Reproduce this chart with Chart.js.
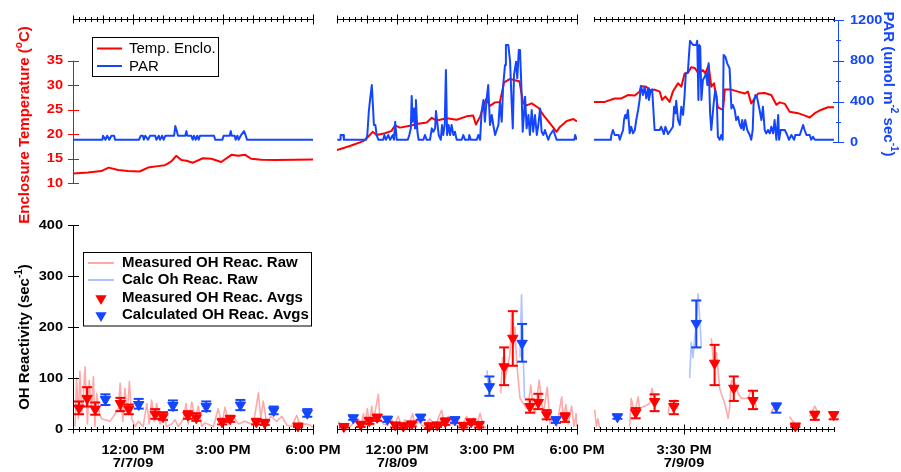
<!DOCTYPE html>
<html>
<head>
<meta charset="utf-8">
<title>OH reactivity, enclosure temperature and PAR</title>
<script src="https://cdn.jsdelivr.net/npm/chart.js@4.4.1/dist/chart.umd.min.js"></script>
<style>
  body { margin: 0; background: #fff; }
  #wrap { position: relative; width: 901px; height: 472px; background: #fff; }
  #wrap canvas { position: absolute; left: 0; top: 0; }
</style>
</head>
<body>
<div id="wrap">
  <canvas id="top1" width="901" height="472"></canvas>
  <canvas id="top2" width="901" height="472"></canvas>
  <canvas id="top3" width="901" height="472"></canvas>
  <canvas id="bot1" width="901" height="472"></canvas>
  <canvas id="bot2" width="901" height="472"></canvas>
  <canvas id="bot3" width="901" height="472"></canvas>
</div>
<script>
// ---- data (time in hours of the day) ----

// tick labels
const tickTimes1 = [12, 15, 18];
const tickText1 = ['12:00 PM', '3:00 PM', '6:00 PM'];
const dateText1 = ['7/7/09', '', ''];
const tickTimes2 = [12, 15, 18];
const tickText2 = ['12:00 PM', '3:00 PM', '6:00 PM'];
const dateText2 = ['7/8/09', '', ''];
const tickTimes3 = [15.5];
const tickText3 = ['3:30 PM'];
const dateText3 = ['7/9/09'];
const tempTicks = [10, 15, 20, 25, 30, 35];
const parTicks = [0, 400, 800, 1200];
const parMinor = [200, 600, 1000];
const ohTicks = [0, 100, 200, 300, 400];

// enclosure temperature (deg C)
const tempTime1 = [10.0, 10.5, 10.94, 11.19, 11.5, 11.83, 12.22, 12.5, 12.83, 13.06,
  13.16, 13.3, 13.44, 13.61, 13.78, 14.0, 14.33, 14.61, 14.94, 15.28,
  15.5, 15.74, 15.94, 16.28, 16.72, 17.39, 18.0];
const temp1 = [12.0, 12.2, 12.5, 13.2, 12.7, 12.5, 12.4, 13.2, 13.5, 13.7,
  14.0, 14.6, 15.6, 14.75, 14.6, 14.2, 15.1, 15.0, 14.35, 15.8,
  15.6, 15.8, 15.0, 14.8, 14.75, 14.8, 14.85];

const tempTime2 = [10.0, 10.43, 10.88, 11.04, 11.19, 11.32, 11.6, 11.82, 11.93, 12.1,
  12.43, 12.71, 12.99, 13.16, 13.32, 13.66, 13.99, 14.32, 14.54, 14.63,
  14.77, 14.97, 15.1, 15.27, 15.43, 15.57, 15.77, 15.99, 16.08, 16.21,
  16.32, 16.49, 16.71, 16.88, 17.1, 17.32, 17.43, 17.66, 17.88, 18.0];
const temp2 = [16.8, 17.6, 18.6, 19.5, 20.5, 19.85, 20.2, 20.7, 21.8, 21.35,
  21.75, 22.15, 22.4, 23.35, 22.8, 23.25, 22.95, 23.65, 23.8, 22.0,
  23.6, 27.2, 25.8, 26.5, 26.6, 30.6, 31.3, 30.9, 30.8, 26.3,
  25.9, 26.3, 25.4, 23.9, 22.2, 20.5, 21.5, 22.7, 23.1, 22.6];

const tempTime3 = [12.5, 12.86, 13.19, 13.41, 13.63, 13.86, 14.02, 14.08, 14.24, 14.36,
  14.52, 14.69, 14.77, 14.88, 15.02, 15.13, 15.3, 15.41, 15.52, 15.63,
  15.74, 15.86, 15.97, 16.13, 16.21, 16.32, 16.41, 16.5, 16.63, 16.8,
  16.86, 17.08, 17.3, 17.52, 17.63, 17.74, 17.97, 18.19, 18.41, 18.58,
  18.69, 18.86, 19.02, 19.3, 19.58, 19.69, 19.86, 20.08, 20.3, 20.5];
const temp3 = [26.6, 26.6, 27.3, 27.3, 28.0, 27.9, 28.7, 29.8, 29.7, 29.0,
  29.1, 28.7, 27.0, 27.7, 26.6, 28.7, 30.4, 29.7, 32.4, 32.5,
  33.65, 33.5, 32.5, 33.1, 32.4, 34.1, 29.7, 30.4, 25.5, 24.95,
  29.1, 29.1, 28.7, 28.3, 28.7, 26.3, 28.3, 28.4, 28.0, 26.0,
  26.5, 26.2, 24.6, 24.3, 23.7, 23.4, 24.3, 25.0, 25.5, 25.5];

// PAR (umol m-2 s-1)
const parTime1 = [10.0, 10.98, 11.0, 11.08, 11.14, 11.21, 11.28, 11.37, 11.4, 12.2,
  12.26, 12.33, 12.36, 12.41, 12.5, 12.57, 12.74, 12.78, 12.86, 12.9,
  12.97, 13.02, 13.08, 13.37, 13.41, 13.46, 13.5, 13.74, 13.78, 13.81,
  13.94, 13.99, 14.03, 14.09, 14.14, 14.19, 14.23, 14.7, 14.74, 14.98,
  15.02, 15.22, 15.26, 15.29, 15.39, 15.42, 15.48, 15.52, 15.59, 15.7,
  15.76, 15.8, 18.0];
const par1 = [25, 25, 65, 25, 65, 25, 65, 65, 25, 25,
  65, 65, 25, 65, 25, 65, 65, 25, 65, 25,
  65, 25, 65, 65, 160, 110, 65, 65, 110, 65,
  65, 25, 65, 25, 65, 25, 65, 65, 25, 25,
  65, 65, 110, 65, 65, 25, 65, 25, 65, 110,
  65, 25, 25];

const parTime2 = [10.01, 10.1, 10.12, 10.21, 10.23, 10.97, 11.01, 11.06, 11.1, 11.16,
  11.19, 11.23, 11.28, 11.32, 11.38, 11.54, 11.58, 11.63, 11.71, 11.77,
  11.86, 11.9, 11.94, 11.99, 12.36, 12.41, 12.46, 12.49, 12.52, 12.57,
  12.6, 12.63, 12.68, 12.72, 12.88, 12.93, 12.99, 13.1, 13.16, 13.21,
  13.27, 13.3, 13.34, 13.39, 13.46, 13.5, 13.54, 13.59, 13.63, 13.67,
  13.72, 13.77, 13.82, 13.88, 13.93, 13.99, 14.16, 14.21, 14.27, 14.39,
  14.41, 14.46, 14.66, 14.71, 14.77, 14.82, 14.88, 14.93, 14.99, 15.04,
  15.1, 15.16, 15.21, 15.27, 15.38, 15.43, 15.49, 15.54, 15.6, 15.63,
  15.71, 15.77, 15.82, 15.86, 15.9, 15.97, 16.01, 16.06, 16.1, 16.14,
  16.19, 16.23, 16.27, 16.32, 16.38, 16.43, 16.49, 16.54, 16.6, 16.66,
  16.71, 16.77, 16.82, 16.88, 16.93, 17.04, 17.1, 17.21, 17.32, 17.91,
  17.94, 17.99];
const par2 = [25, 25, 72, 72, 25, 25, 72, 300, 415, 562,
  400, 170, 170, 72, 25, 25, 72, 25, 72, 25,
  72, 25, 202, 25, 25, 72, 137, 454, 202, 333,
  137, 415, 104, 25, 25, 72, 25, 25, 137, 104,
  137, 307, 202, 72, 25, 170, 72, 170, 709, 72,
  170, 72, 170, 72, 104, 25, 25, 72, 25, 25,
  72, 25, 25, 72, 25, 300, 415, 202, 432, 562,
  170, 268, 170, 72, 170, 398, 202, 562, 758, 955,
  955, 791, 398, 137, 660, 791, 628, 905, 905, 595,
  104, 268, 448, 137, 268, 72, 317, 104, 268, 72,
  170, 333, 104, 72, 121, 25, 72, 121, 25, 25,
  72, 25];

const parTime3 = [12.5, 13.06, 13.08, 13.13, 13.19, 13.32, 13.36, 13.41, 13.47, 13.5,
  13.54, 13.58, 13.63, 13.69, 13.74, 13.8, 13.86, 13.91, 13.97, 14.02,
  14.06, 14.1, 14.13, 14.19, 14.24, 14.3, 14.33, 14.39, 14.44, 14.48,
  14.52, 14.63, 14.69, 14.74, 14.83, 14.88, 14.97, 15.06, 15.13, 15.17,
  15.21, 15.24, 15.3, 15.36, 15.41, 15.47, 15.52, 15.56, 15.63, 15.67,
  15.7, 15.8, 15.91, 15.94, 15.98, 16.01, 16.04, 16.08, 16.13, 16.19,
  16.24, 16.28, 16.32, 16.37, 16.41, 16.47, 16.5, 16.54, 16.59, 16.63,
  16.69, 16.74, 16.79, 16.82, 16.88, 16.94, 17.02, 17.08, 17.13, 17.19,
  17.24, 17.3, 17.36, 17.41, 17.44, 17.49, 17.54, 17.61, 17.69, 17.74,
  17.79, 17.82, 17.88, 17.93, 18.02, 18.08, 18.13, 18.19, 18.24, 18.3,
  18.36, 18.41, 18.47, 18.52, 18.58, 18.64, 18.67, 18.72, 18.86, 18.94,
  19.0, 19.08, 19.17, 19.21, 19.36, 19.47, 19.52, 19.58, 19.69, 19.74,
  19.8, 19.86, 20.5];
const par3 = [25, 25, 72, 121, 72, 72, 25, 72, 121, 219,
  268, 235, 317, 88, 153, 88, 121, 219, 317, 415,
  552, 513, 464, 546, 432, 530, 415, 513, 520, 317,
  121, 121, 121, 153, 81, 153, 81, 121, 153, 349,
  284, 408, 219, 170, 349, 268, 464, 677, 693, 873,
  997, 955, 955, 997, 415, 955, 938, 415, 611, 644,
  677, 562, 775, 284, 121, 317, 415, 513, 448, 55,
  25, 72, 25, 856, 840, 775, 726, 333, 366, 317,
  219, 251, 170, 137, 219, 121, 219, 121, 72, 25,
  121, 382, 464, 448, 317, 219, 349, 121, 88, 121,
  88, 153, 88, 219, 25, 268, 25, 121, 121, 72,
  25, 72, 25, 72, 72, 170, 121, 72, 72, 25,
  55, 25, 25];

// measured OH reactivity, raw (s-1); null = gap in record
const ohRawTime1 = [10.07, 10.12, 10.18, 10.23, 10.29, 10.34, 10.4, 10.48, 10.54, 10.62,
  10.68, 10.73, 10.79, 10.88, 10.96, 11.23, 11.34, 11.51, 11.57, 11.66,
  11.73, 11.81, 11.88, 11.96, 12.07, 12.18, 12.34, 12.46, 12.54, 12.62,
  12.7, 12.79, 12.9, 13.01, 13.12, 13.29, 13.4, 13.51, 13.68, 13.77,
  13.84, 13.96, 14.07, 14.18, 14.29, 14.4, 14.68, 14.84, 14.96, 15.07,
  15.18, 15.34, 15.51, 15.73, 16.01, 16.18, 16.26, 16.34, 16.46, 16.59,
  16.79, 16.96, 17.12, 17.29, 17.46, 17.57, 17.73, 17.9, 18.0];
const ohRaw1 = [5, 100, 20, 113, 30, 60, 122, 10, 95, 40,
  103, 5, 70, 30, 20, 15, 24, 40, 90, 15,
  80, 30, 93, 20, 5, 15, 5, 50, 10, 57,
  15, 50, 10, 30, 5, 10, 18, 5, 20, 50,
  10, 53, 20, 45, 5, 12, 5, 40, 10, 43,
  10, 25, 10, 15, 8, 71, 20, 55, 10, 25,
  15, 25, 8, 5, 27, 5, 10, 8, 3];

const ohRawTime2 = [10.04, 10.16, 10.27, 10.38, 10.71, 10.79, 10.88, 10.93, 11.01, 11.08,
  11.16, 11.21, 11.32, 11.38, 11.43, 11.54, 11.66, 11.82, 11.9, 12.04,
  12.16, 12.27, 12.38, 12.52, 12.6, 12.71, 12.88, 13.1, 13.27, 13.38,
  13.49, 13.57, 13.71, 13.82, 14.16, 14.32, 14.43, 14.54, 14.66, 14.77,
  14.88, 14.97, 15.2, 15.46, 15.52, 15.6, 15.68, 15.77, 15.82, 15.88,
  15.93, 15.99, 16.1, 16.32, 16.4, 16.46, 16.54, 16.6, 16.74, 16.82,
  16.88, 17.01, 17.1, 17.21, 17.32, 17.49, 17.54, 17.63, 17.71, 17.82,
  17.9, 17.97, 18.0];
const ohRaw2 = [15, 3, 10, 2, 20, 5, 30, 8, 40, 10,
  45, 15, 50, 68, 20, 10, 8, 20, 5, 25,
  5, 18, 5, 30, 8, 15, 5, 20, 5, 22,
  37, 10, 25, 10, 5, 25, 8, 22, 8, 31,
  5, 3, null, 70, 140, 100, 120, 150, 227, 160,
  200, 130, 60, 40, 60, 86, 40, 30, 96, 50,
  30, 82, 10, 20, 5, 63, 20, 48, 10, 45,
  5, 30, 5];

const ohRawTime3 = [12.52, 12.58, 12.63, 12.69, 13.0, 13.69, 13.74, 13.86, 13.97, 14.02,
  14.36, 14.43, 14.52, 14.66, 14.8, 14.97, 15.02, 15.21, 15.3, 15.9,
  16.41, 16.5, 16.58, 16.69, 16.74, 16.86, 16.97, 17.02, 17.08, 17.19,
  17.3, 17.41, 17.63, 17.74, 17.86, 17.91, 18.2, 18.39, 18.47, 18.58,
  18.8, 19.02, 19.13, 19.24, 19.3, 19.5, 19.69, 19.86, 19.97, 20.2,
  20.36, 20.47, 20.5];
const ohRaw3 = [38, 5, 20, 2, null, 5, 60, 30, 63, 40,
  50, 80, 55, 60, null, 30, 50, 57, 40, null,
  178, 120, 150, 80, 70, 50, 21, 40, 96, 90,
  70, 60, 60, 76, 55, 40, null, 30, 40, 35,
  null, 24, 15, 8, 5, null, 25, 45, 30, null,
  20, 30, 25];

// calculated OH reactivity, raw (s-1)
const calcRawTime1 = [11.0, 11.04, 11.08, 11.12, 11.15, 11.6, 12.12, 12.16, 12.2, 12.25,
  12.7, 13.27, 13.31, 13.35, 13.4, 13.9, 14.38, 14.42, 14.46, 14.5,
  15.0, 15.52, 15.56, 15.6, 15.64, 16.2, 16.63, 16.67, 16.71, 16.75,
  17.3, 17.75, 17.79, 17.83, 17.87];
const calcRaw1 = [50, 62, 46, 60, 52, null, 45, 58, 42, 52,
  null, 40, 52, 35, 48, null, 38, 50, 33, 45,
  null, 38, 52, 35, 49, null, 30, 42, 28, 38,
  null, 26, 36, 24, 33];

const calcRawTime2 = [10.5, 10.54, 10.58, 10.62, 11.1, 11.64, 11.68, 11.72, 11.76, 12.3,
  12.75, 12.79, 12.83, 12.87, 13.4, 13.9, 13.94, 13.98, 14.02, 14.5,
  15.0, 15.04, 15.08, 15.12, 15.16, 15.6, 16.1, 16.15, 16.2, 16.25,
  16.8, 17.26, 17.3, 17.34, 17.38];
const calcRaw2 = [20, 26, 18, 24, null, 16, 23, 15, 21, null,
  20, 27, 18, 25, null, 15, 22, 13, 20, null,
  115, 90, 70, 95, 80, null, 140, 263, 160, 60,
  null, 15, 22, 13, 20];

const calcRawTime3 = [13.24, 13.28, 13.32, 13.36, 14.0, 15.69, 15.74, 15.8, 15.86, 15.91,
  15.97, 16.02, 16.08, 17.0, 18.52, 18.56, 18.6, 18.64];
const calcRaw3 = [20, 27, 18, 24, null, 100, 170, 140, 180, 210,
  265, 220, 160, null, 40, 50, 38, 47];

// measured OH reactivity averages with error bars
const measTime1 = [10.2, 10.47, 10.74, 11.58, 11.86, 12.74, 13.0, 13.83, 14.11, 14.97, 15.24, 16.11, 16.39, 17.5];
const measAvg1 = [41, 60, 39, 50, 39, 29, 24, 27, 22, 14, 20, 14, 12, 6];
const measLo1 = [29, 44, 28, 35, 29, 20, 18, 20, 16, 9, 14, 9, 8, 4];
const measHi1 = [54, 82, 52, 61, 48, 39, 33, 35, 31, 20, 26, 20, 18, 8];

const measTime2 = [10.23, 10.79, 11.08, 11.34, 11.94, 12.21, 12.49, 13.07, 13.34, 13.61,
  14.21, 14.47, 14.74, 15.57, 15.86, 16.43, 16.71, 16.99, 17.6];
const measAvg2 = [5, 9, 16, 23, 8, 6, 10, 6, 8, 14, 7, 14, 9, 122, 178, 44, 52, 28, 24];
const measLo2 = [3, 4, 10, 16, 3, 2, 5, 2, 4, 8, 3, 9, 3, 86, 124, 32, 39, 19, 14];
const measHi2 = [7, 14, 22, 28, 12, 11, 14, 11, 12, 21, 12, 18, 12, 160, 231, 58, 69, 37, 31];

const measTime3 = [13.89, 14.52, 15.16, 16.52, 17.16, 17.8, 19.21, 19.86, 20.49];
const measAvg3 = [32, 54, 44, 129, 80, 56, 6, 28, 28];
const measLo3 = [21, 35, 29, 86, 55, 39, 4, 18, 19];
const measHi3 = [41, 68, 55, 165, 103, 75, 8, 34, 33];

// calculated OH reactivity averages with error bars
const calcTime1 = [11.08, 12.19, 13.33, 14.44, 15.58, 16.69, 17.81];
const calcAvg1 = [58, 48, 46, 44, 47, 36, 31];
const calcLo1 = [47, 40, 37, 35, 37, 29, 24];
const calcHi1 = [68, 59, 56, 54, 57, 44, 39];

const calcTime2 = [10.54, 11.68, 12.79, 13.93, 15.08, 16.17, 17.3];
const calcAvg2 = [22, 19, 23, 18, 83, 168, 18];
const calcLo2 = [18, 14, 18, 12, 65, 132, 12];
const calcHi2 = [26, 24, 28, 23, 103, 206, 23];

const calcTime3 = [13.28, 15.91, 18.58];
const calcAvg3 = [24, 207, 45];
const calcLo3 = [20, 160, 32];
const calcHi3 = [28, 252, 50];

// ---- layout / style ----
const W = 901, H = 472;
const RED = '#ff0000', BLUE = '#1446ff', PINK = '#ffaaaa', LBLUE = '#afc3ff';
const FONT = '"Liberation Sans", Arial, Helvetica, sans-serif';
const TICK_FONT = 'bold 13px ' + FONT;

const panels = [
  { min: 10, max: 18, left: 73, right: 313, hourly: true },
  { min: 10, max: 18, left: 337, right: 577, hourly: true },
  { min: 12.5, max: 20.5, left: 594, right: 834, hourly: false }
];
const TOP_AREA = { top: 19, bottom: 183.3 };
const BOT_AREA = { top: 225, bottom: 429 };

// ---- helpers ----
function pts(ts, vs) {
  return ts.map((t, i) => ({ x: t, y: vs[i] }));
}

function lineSet(ts, vs, color, width, axis, order) {
  return {
    data: pts(ts, vs),
    showLine: true,
    borderColor: color,
    borderWidth: width,
    borderJoinStyle: 'round',
    pointRadius: 0,
    spanGaps: false,
    yAxisID: axis,
    order: order
  };
}

// vertical error bar with caps, one segment per average
function barSet(ts, lo, hi, color) {
  return {
    data: ts.flatMap((t, i) => [{ x: t, y: lo[i] }, { x: t, y: hi[i] }, { x: t, y: null }]),
    showLine: true,
    spanGaps: false,
    borderColor: color,
    borderWidth: 2,
    pointStyle: 'line',
    pointRadius: 5,
    pointBorderColor: color,
    pointBorderWidth: 2,
    clip: false,
    order: 1
  };
}

function markerSet(ts, vs, color) {
  return {
    data: pts(ts, vs),
    pointStyle: 'triangle',
    pointRotation: 180,
    pointRadius: 6,
    pointBackgroundColor: color,
    pointBorderColor: color,
    pointBorderWidth: 1,
    clip: false,
    order: 0
  };
}

function text(ctx, s, x, y, font, color, align, sx) {
  ctx.save();
  ctx.translate(x, y);
  ctx.scale(sx || 1, 1);
  ctx.font = font;
  ctx.fillStyle = color;
  ctx.textAlign = align || 'left';
  ctx.textBaseline = 'middle';
  ctx.fillText(s, 0, 0);
  ctx.restore();
}

// rotated axis title with superscripts
function richLabel(ctx, parts, cx, cy, angle, color) {
  const big = 'bold 15px ' + FONT, small = 'bold 10px ' + FONT;
  ctx.save();
  ctx.translate(cx, cy);
  ctx.rotate(angle);
  ctx.fillStyle = color;
  ctx.textBaseline = 'middle';
  ctx.textAlign = 'left';
  let w = 0;
  parts.forEach(p => { ctx.font = p.sup ? small : big; w += ctx.measureText(p.s).width; });
  let x = -w / 2;
  parts.forEach(p => {
    ctx.font = p.sup ? small : big;
    ctx.fillText(p.s, x, p.sup ? -6 : 0);
    x += ctx.measureText(p.s).width;
  });
  ctx.restore();
}

function drawTimeAxis(chart, p, y, times, texts, dates) {
  const ctx = chart.ctx, sc = chart.scales.x;
  ctx.save();
  ctx.strokeStyle = '#000';
  ctx.lineWidth = 1;
  ctx.beginPath();
  ctx.moveTo(sc.left, y + 0.5);
  ctx.lineTo(sc.right, y + 0.5);
  const n = Math.round((p.max - p.min) / 0.2);
  for (let k = 0; k <= n; k++) {
    const t = p.min + k * 0.2;
    const px = Math.round(sc.getPixelForValue(t)) + 0.5;
    let len = 2.5;
    if (p.hourly && Math.abs(t - Math.round(t)) < 1e-6) len = 4;
    if (times.some(m => Math.abs(m - t) < 1e-6)) len = 5;
    ctx.moveTo(px, y + 0.5 - len);
    ctx.lineTo(px, y + 0.5 + len);
  }
  ctx.stroke();
  if (texts) {
    times.forEach((t, i) => {
      const px = sc.getPixelForValue(t);
      text(ctx, texts[i], px, 450, TICK_FONT, '#000', 'center', 1.12);
      if (dates[i]) text(ctx, dates[i], px, 463.5, TICK_FONT, '#000', 'center', 1.12);
    });
  }
  ctx.restore();
}

function drawYAxis(chart, id, x, ticks, minor, color, side) {
  const ctx = chart.ctx, sc = chart.scales[id];
  ctx.save();
  ctx.strokeStyle = color;
  ctx.lineWidth = 1;
  ctx.beginPath();
  ctx.moveTo(x + 0.5, sc.getPixelForValue(ticks[0]));
  ctx.lineTo(x + 0.5, sc.getPixelForValue(ticks[ticks.length - 1]));
  ticks.forEach(v => {
    const py = Math.round(sc.getPixelForValue(v)) + 0.5;
    ctx.moveTo(x - 5, py);
    ctx.lineTo(x + 6, py);
  });
  minor.forEach(v => {
    const py = Math.round(sc.getPixelForValue(v)) + 0.5;
    ctx.moveTo(x - 2, py);
    ctx.lineTo(x + 3, py);
  });
  ctx.stroke();
  ticks.forEach(v => {
    const py = sc.getPixelForValue(v);
    if (side === 'left') text(ctx, String(v), x - 10, py, TICK_FONT, color, 'right', 1.12);
    else text(ctx, String(v), x + 12, py, TICK_FONT, color, 'left', 1.12);
  });
  ctx.restore();
}

function triangle(ctx, x, y, r, color) {
  ctx.beginPath();
  ctx.moveTo(x, y + r);
  ctx.lineTo(x - r * 0.866, y - r / 2);
  ctx.lineTo(x + r * 0.866, y - r / 2);
  ctx.closePath();
  ctx.fillStyle = color;
  ctx.fill();
}

function drawTopLegend(ctx) {
  ctx.save();
  ctx.fillStyle = '#fff';
  ctx.fillRect(92.5, 37.5, 126, 39);
  ctx.strokeStyle = '#000';
  ctx.lineWidth = 1;
  ctx.strokeRect(92.5, 37.5, 126, 39);
  ctx.lineWidth = 2;
  ctx.strokeStyle = RED;
  ctx.beginPath(); ctx.moveTo(97, 48.5); ctx.lineTo(122, 48.5); ctx.stroke();
  ctx.strokeStyle = BLUE;
  ctx.beginPath(); ctx.moveTo(97, 66); ctx.lineTo(122, 66); ctx.stroke();
  text(ctx, 'Temp. Enclo.', 129, 49, '15px ' + FONT, '#000', 'left');
  text(ctx, 'PAR', 129, 66.5, '15px ' + FONT, '#000', 'left');
  ctx.restore();
}

function drawBottomLegend(ctx) {
  const f = 'bold 14px ' + FONT;
  ctx.save();
  ctx.fillStyle = '#fff';
  ctx.fillRect(83.5, 252.5, 228, 73.5);
  ctx.strokeStyle = '#000';
  ctx.lineWidth = 1;
  ctx.strokeRect(83.5, 252.5, 228, 73.5);
  ctx.lineWidth = 2;
  ctx.strokeStyle = PINK;
  ctx.beginPath(); ctx.moveTo(88, 263); ctx.lineTo(114, 263); ctx.stroke();
  ctx.strokeStyle = LBLUE;
  ctx.beginPath(); ctx.moveTo(88, 280); ctx.lineTo(114, 280); ctx.stroke();
  triangle(ctx, 101, 298.5, 6.5, RED);
  triangle(ctx, 101, 315.5, 6.5, BLUE);
  text(ctx, 'Measured OH Reac. Raw', 122, 263, f, '#000', 'left', 1.07);
  text(ctx, 'Calc Oh Reac. Raw', 122, 280.5, f, '#000', 'left', 1.07);
  text(ctx, 'Measured OH Reac. Avgs', 122, 298, f, '#000', 'left', 1.07);
  text(ctx, 'Calculated OH Reac. Avgs', 122, 315.5, f, '#000', 'left', 1.07);
  ctx.restore();
}

function makeChart(id, p, area, scales, datasets, decor) {
  return new Chart(document.getElementById(id), {
    type: 'scatter',
    data: { datasets: datasets },
    options: {
      responsive: false,
      animation: false,
      events: [],
      layout: {
        autoPadding: false,
        padding: { left: p.left, right: W - p.right, top: area.top, bottom: H - area.bottom }
      },
      scales: scales,
      plugins: { legend: { display: false }, tooltip: { enabled: false } }
    },
    plugins: [{ id: 'decor_' + id, afterDraw: decor }]
  });
}

function topScales(p) {
  return {
    x: { type: 'linear', display: false, min: p.min, max: p.max },
    yT: { type: 'linear', display: false, min: 10, max: 43.5 },
    yP: { type: 'linear', display: false, min: -402, max: 1210 }
  };
}

function botScales(p) {
  return {
    x: { type: 'linear', display: false, min: p.min, max: p.max },
    y: { type: 'linear', display: false, min: 0, max: 400 }
  };
}

const tempTitle = [{ s: 'Enclosure Temperature (' }, { s: 'o', sup: true }, { s: 'C)' }];
const parTitle = [{ s: 'PAR (umol m' }, { s: '-2', sup: true }, { s: ' sec' }, { s: '-1', sup: true }, { s: ')' }];
const ohTitle = [{ s: 'OH Reactivity (sec' }, { s: '-1', sup: true }, { s: ')' }];

// ---- top row: temperature and PAR ----
makeChart('top1', panels[0], TOP_AREA, topScales(panels[0]), [
  lineSet(parTime1, par1, BLUE, 2, 'yP', 0),
  lineSet(tempTime1, temp1, RED, 2, 'yT', 1)
], chart => {
  drawTimeAxis(chart, panels[0], 19, tickTimes1, null, null);
  drawYAxis(chart, 'yT', 73, tempTicks, [], RED, 'left');
  richLabel(chart.ctx, tempTitle, 25, 125, -Math.PI / 2, RED);
  drawTopLegend(chart.ctx);
});

makeChart('top2', panels[1], TOP_AREA, topScales(panels[1]), [
  lineSet(parTime2, par2, BLUE, 2, 'yP', 0),
  lineSet(tempTime2, temp2, RED, 2, 'yT', 1)
], chart => {
  drawTimeAxis(chart, panels[1], 19, tickTimes2, null, null);
});

makeChart('top3', panels[2], TOP_AREA, topScales(panels[2]), [
  lineSet(parTime3, par3, BLUE, 2, 'yP', 0),
  lineSet(tempTime3, temp3, RED, 2, 'yT', 1)
], chart => {
  drawTimeAxis(chart, panels[2], 19, tickTimes3, null, null);
  drawYAxis(chart, 'yP', 838, parTicks, parMinor, BLUE, 'right');
  richLabel(chart.ctx, parTitle, 888, 84, Math.PI / 2, BLUE);
});

// ---- bottom row: OH reactivity ----
makeChart('bot1', panels[0], BOT_AREA, botScales(panels[0]), [
  lineSet(ohRawTime1, ohRaw1, PINK, 1.6, 'y', 3),
  lineSet(calcRawTime1, calcRaw1, LBLUE, 1.6, 'y', 2),
  barSet(measTime1, measLo1, measHi1, RED),
  barSet(calcTime1, calcLo1, calcHi1, BLUE),
  markerSet(measTime1, measAvg1, RED),
  markerSet(calcTime1, calcAvg1, BLUE)
], chart => {
  drawTimeAxis(chart, panels[0], 429, tickTimes1, tickText1, dateText1);
  drawYAxis(chart, 'y', 73, ohTicks, [], '#000', 'left');
  richLabel(chart.ctx, ohTitle, 25, 337, -Math.PI / 2, '#000');
  drawBottomLegend(chart.ctx);
});

makeChart('bot2', panels[1], BOT_AREA, botScales(panels[1]), [
  lineSet(ohRawTime2, ohRaw2, PINK, 1.6, 'y', 3),
  lineSet(calcRawTime2, calcRaw2, LBLUE, 1.6, 'y', 2),
  barSet(measTime2, measLo2, measHi2, RED),
  barSet(calcTime2, calcLo2, calcHi2, BLUE),
  markerSet(measTime2, measAvg2, RED),
  markerSet(calcTime2, calcAvg2, BLUE)
], chart => {
  drawTimeAxis(chart, panels[1], 429, tickTimes2, tickText2, dateText2);
});

makeChart('bot3', panels[2], BOT_AREA, botScales(panels[2]), [
  lineSet(ohRawTime3, ohRaw3, PINK, 1.6, 'y', 3),
  lineSet(calcRawTime3, calcRaw3, LBLUE, 1.6, 'y', 2),
  barSet(measTime3, measLo3, measHi3, RED),
  barSet(calcTime3, calcLo3, calcHi3, BLUE),
  markerSet(measTime3, measAvg3, RED),
  markerSet(calcTime3, calcAvg3, BLUE)
], chart => {
  drawTimeAxis(chart, panels[2], 429, tickTimes3, tickText3, dateText3);
});
</script>
</body>
</html>
